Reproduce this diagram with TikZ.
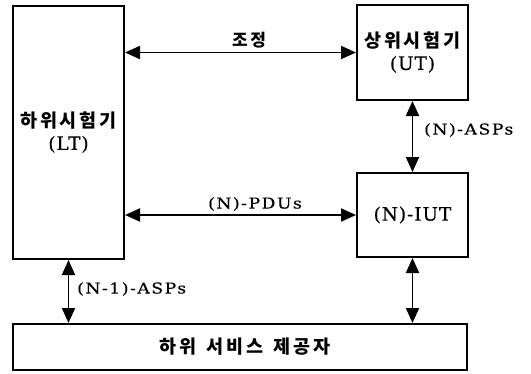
\documentclass[tikz,border=0pt]{standalone}
\usepackage{fontspec}
\setmainfont{DejaVu Serif}
\newfontfamily\krfont{Noto Sans CJK KR}[LetterSpace=16]
\newfontfamily\arrfont{DejaVu Serif}[FakeStretch=1.15,LetterSpace=10,FakeBold=0.4]
\newfontfamily\boxfont{DejaVu Serif}[LetterSpace=5,FakeBold=0.4]
\usetikzlibrary{arrows.meta}
\tikzset{
  box/.style={draw, line width=2pt, inner sep=0pt},
  arr/.style={line width=1.9pt, {Triangle[length=15pt,width=13pt]}-{Triangle[length=15pt,width=13pt]}},
  kr/.style={font=\krfont\bfseries\fontsize{17}{21}\selectfont},
  lbl/.style={font=\arrfont\fontsize{15}{17}\selectfont, inner sep=0pt},
  boxtxt/.style={align=center, font=\fontsize{18.5}{22}\selectfont}
}
\begin{document}
\begin{tikzpicture}[x=1pt,y=-1pt]
\useasboundingbox (0,0) rectangle (531,373);
\node[box, minimum width=111pt, minimum height=253pt, boxtxt] (LT) at (68.5,132.5)
  {{\krfont\bfseries 하위시험기}\\{\boxfont (LT)}};
\node[box, minimum width=111pt, minimum height=95pt, boxtxt] (UT) at (412.5,52.5)
  {{\krfont\bfseries 상위시험기}\\{\boxfont (UT)}};
\node[box, minimum width=111pt, minimum height=84pt, boxtxt] (IUT) at (412.5,215)
  {{\boxfont (N)-IUT}};
\node[box, minimum width=454pt, minimum height=46pt, boxtxt] (SP) at (240,347)
  {\hspace*{10pt}{\krfont\bfseries 하위\hspace{10pt}서비스\hspace{10pt}제공자}};
\draw[arr] (LT.east |- UT.west) -- (UT.west);
\draw[arr] (LT.east |- IUT.west) -- (IUT.west);
\draw[arr] (UT.south) -- (IUT.north);
\draw[arr] (IUT.south) -- (IUT.south |- SP.north);
\draw[arr] (LT.south) -- (LT.south |- SP.north);
\node[kr, inner sep=0pt] (cl) at (249,40) {조정};
\node[lbl] (pl) at (255,204) {(N)-PDUs};
\node[lbl, anchor=west] (al) at (424,130) {(N)-ASPs};
\node[lbl, anchor=west] (nl) at (77,289) {(N-1)-ASPs};
\end{tikzpicture}
\end{document}
